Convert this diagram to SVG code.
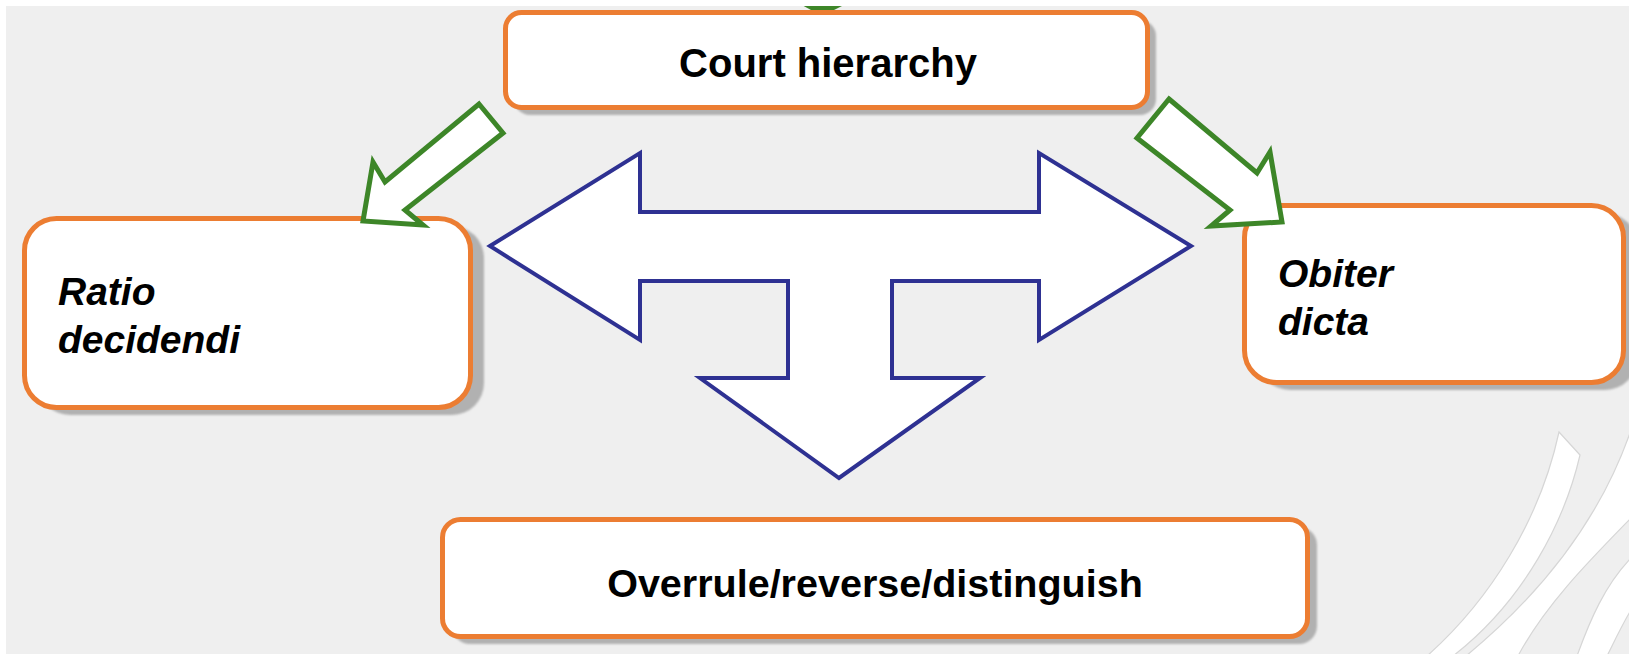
<svg xmlns="http://www.w3.org/2000/svg" width="1629" height="654" viewBox="0 0 1629 654">
  <defs>
    <style>
      .box { fill: #ffffff; stroke: #ec7d32; stroke-width: 5; }
      .shadow { fill: #b1b1b1; filter: url(#soft); }
      .green { fill: #ffffff; stroke: #3d8628; stroke-width: 5; stroke-linejoin: miter; }
      .blue { fill: #ffffff; stroke: #2e3192; stroke-width: 4; stroke-linejoin: miter; }
      .lbl { font-family: "Liberation Sans", Arial, sans-serif; font-weight: bold; fill: #000000; }
      .it { font-style: italic; }
      .swoosh { fill: #ffffff; stroke: #d6d6d6; stroke-width: 1.2; }
    </style>
    <filter id="soft" x="-5%" y="-5%" width="110%" height="110%">
      <feGaussianBlur stdDeviation="1"/>
    </filter>
  </defs>

  <!-- background -->
  <rect x="0" y="0" width="1629" height="654" fill="#efefef"/>

  <!-- decorative swooshes -->
  <g id="decor">
    <path class="swoosh" d="M1559,432 L1580,455 C1565,520 1525,600 1453,656 L1427,656 C1490,600 1540,520 1559,432 Z"/>
    <path class="swoosh" d="M1631,430 L1631,518 C1590,560 1545,605 1518,656 L1466,656 C1540,595 1600,520 1631,430 Z"/>
    <path class="swoosh" d="M1631,558 C1605,585 1590,620 1577,656 L1607,656 C1615,640 1622,625 1631,610 Z"/>
  </g>

  <!-- top partial arrowhead -->
  <polygon points="800,4 846,4 822,16" fill="#3d8628"/>

  <g id="court-hierarchy">
    <rect class="shadow" x="514" y="20" width="642" height="95" rx="16"/>
    <rect class="box" x="505.5" y="12.5" width="642" height="95" rx="16"/>
    <text class="lbl" x="828" y="77" font-size="40" text-anchor="middle">Court hierarchy</text>
  </g>

  <g id="ratio-decidendi">
    <rect class="shadow" x="38" y="226" width="446" height="189" rx="32"/>
    <rect class="box" x="24.5" y="218.5" width="446" height="189" rx="32"/>
    <text class="lbl it" x="58" y="305" font-size="39">Ratio</text>
    <text class="lbl it" x="58" y="353" font-size="39">decidendi</text>
  </g>

  <g id="obiter-dicta">
    <rect class="shadow" x="1258" y="213" width="379" height="177" rx="32"/>
    <rect class="box" x="1244.5" y="205.5" width="379" height="177" rx="32"/>
    <text class="lbl it" x="1278" y="287" font-size="39">Obiter</text>
    <text class="lbl it" x="1278" y="335" font-size="39">dicta</text>
  </g>

  <g id="overrule">
    <rect class="shadow" x="452" y="527" width="865" height="117" rx="18"/>
    <rect class="box" x="442.5" y="519.5" width="865" height="117" rx="18"/>
    <text class="lbl" x="875" y="597" font-size="39.5" text-anchor="middle">Overrule/reverse/distinguish</text>
  </g>

  <g id="connectors">
    <polygon class="green" points="479,104 503,133 405,210 423,225 363,221 373,162 385,182"/>
    <polygon class="green" points="1169,99 1257,173 1270,152 1282,222 1211,226 1230,210 1137,138"/>
    <polygon class="blue" points="490,246 640,153 640,212 1039,212 1039,153 1191,246 1039,340 1039,281 892,281 892,378 980,378 839,478 700,378 788,378 788,281 640,281 640,340"/>
  </g>

  <!-- white page margins -->
  <rect x="0" y="0" width="1629" height="6" fill="#ffffff"/>
  <rect x="0" y="0" width="6" height="654" fill="#ffffff"/>
</svg>
